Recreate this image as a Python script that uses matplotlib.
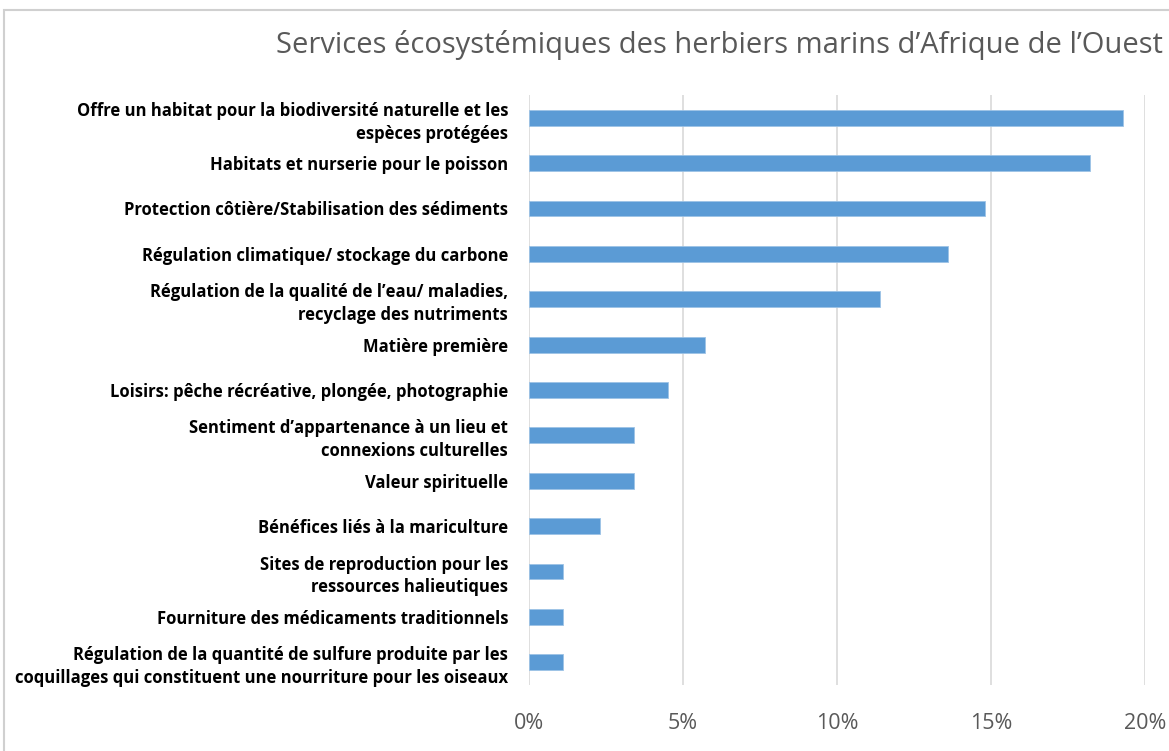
import matplotlib.pyplot as plt
from matplotlib.patches import Rectangle
from matplotlib.ticker import PercentFormatter

services = [
    "Offre un habitat pour la biodiversité naturelle et les\nespèces protégées",
    "Habitats et nurserie pour le poisson",
    "Protection côtière/Stabilisation des sédiments",
    "Régulation climatique/ stockage du carbone",
    "Régulation de la qualité de l’eau/ maladies,\nrecyclage des nutriments",
    "Matière première",
    "Loisirs: pêche récréative, plongée, photographie",
    "Sentiment d’appartenance à un lieu et\nconnexions culturelles",
    "Valeur spirituelle",
    "Bénéfices liés à la mariculture",
    "Sites de reproduction pour les\nressources halieutiques",
    "Fourniture des médicaments traditionnels",
    "Régulation de la quantité de sulfure produite par les\ncoquillages qui constituent une nourriture pour les oiseaux",
]
shares = [0.193, 0.182, 0.148, 0.136, 0.114, 0.057, 0.045, 0.034, 0.034, 0.023, 0.011, 0.011, 0.011]

fig = plt.figure(figsize=(11.69, 7.51), dpi=100)
ax = fig.add_axes([529 / 1169, 1 - 685 / 751, (1145 - 529) / 1169, 590 / 751])

# light frame around the chart, like the original Excel chart area
fig.patches.append(Rectangle((4 / 1169, -0.1), 1.2, 1 - 10 / 751 + 0.1,
                             transform=fig.transFigure, fill=False,
                             edgecolor="#d0d0d0", linewidth=1.5))

pos = list(range(len(services)))
ax.barh(pos, shares, height=0.35, color="#5b9bd5", edgecolor="#9dc3e6", linewidth=0.6, zorder=3)
ax.set_xlim(0, 0.20)
ax.set_ylim(len(services) - 0.5, -0.5)
ax.set_xticks([0, 0.05, 0.10, 0.15, 0.20])
ax.xaxis.set_major_formatter(PercentFormatter(1.0, decimals=0))
ax.set_yticks(pos)
ax.set_yticklabels(services, fontsize=12, fontweight="bold", family="Open Sans", color="black",
                   linespacing=1.35)
for lbl in ax.get_xticklabels():
    lbl.set_family("Open Sans")
    lbl.set_fontsize(15.5)
    lbl.set_color("#595959")
ax.tick_params(axis="x", length=0, pad=20)
ax.tick_params(axis="y", length=0, pad=15)
ax.grid(axis="x", color="#d9d9d9", linewidth=1.2, zorder=0)
for s in ax.spines.values():
    s.set_visible(False)

fig.text(719 / 1169, 1 - 45 / 751, "Services écosystémiques des herbiers marins d’Afrique de l’Ouest",
         ha="center", va="center", fontsize=21, color="#595959", family="Open Sans")

fig.savefig("out.png", dpi=100)
